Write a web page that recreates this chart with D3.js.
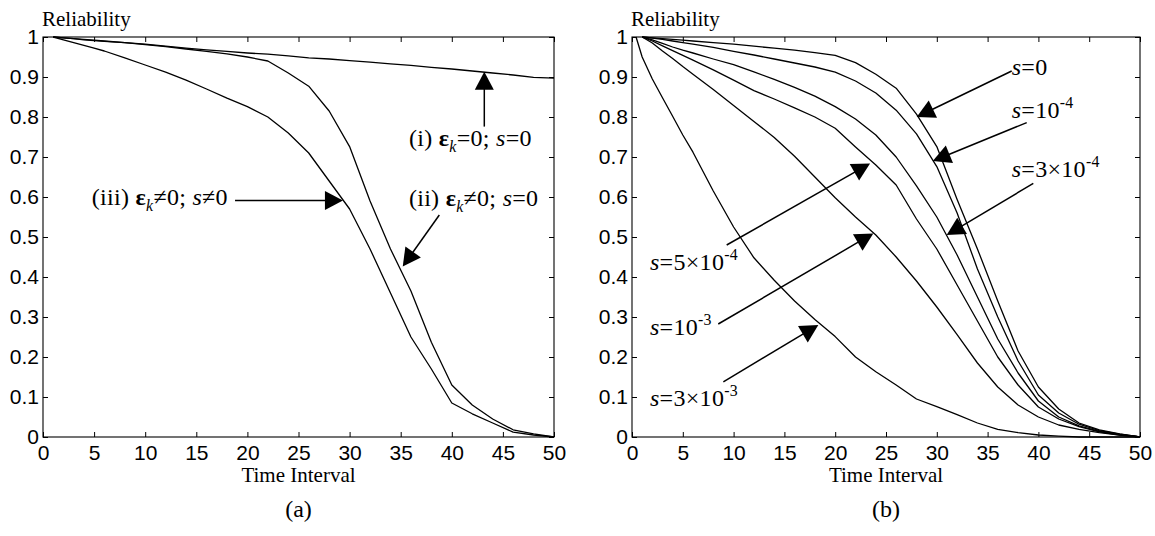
<!DOCTYPE html>
<html><head><meta charset="utf-8">
<script src="https://cdn.jsdelivr.net/npm/d3@7"></script>
<style>body{margin:0;background:#fff} text{white-space:pre}</style>
</head><body><svg id="c" width="1155" height="536"></svg>
<script>
// ---------- data ----------
const xTicks = [0,5,10,15,20,25,30,35,40,45,50];
const xTickLabels = ["0","5","10","15","20","25","30","35","40","45","50"];
const yTicks = [0,0.1,0.2,0.3,0.4,0.5,0.6,0.7,0.8,0.9,1];
const yTickLabels = ["0","0.1","0.2","0.3","0.4","0.5","0.6","0.7","0.8","0.9","1"];

const timeX = [1,2,3,4,5,6,8,10,12,14,16,18,20,22,24,26,28,30,32,34,36,38,40,42,44,46,48,50];

// panel (a)
const a_i   = [1.0,0.998,0.996,0.993,0.991,0.989,0.986,0.982,0.977,0.972,0.968,0.964,0.96,0.957,0.953,0.948,0.945,0.941,0.937,0.933,0.929,0.924,0.92,0.915,0.91,0.905,0.899,0.897];
const a_ii  = [1.0,0.998,0.996,0.994,0.992,0.99,0.986,0.981,0.976,0.97,0.964,0.958,0.95,0.94,0.91,0.877,0.815,0.726,0.59,0.47,0.365,0.237,0.13,0.08,0.045,0.018,0.008,0.0];
const a_iii = [1.0,0.993,0.986,0.979,0.972,0.965,0.948,0.93,0.912,0.892,0.87,0.847,0.826,0.8,0.76,0.71,0.64,0.57,0.47,0.36,0.25,0.17,0.085,0.058,0.035,0.012,0.005,0.0];

// panel (b)
const b_s0   = [1.0,0.998,0.996,0.994,0.992,0.99,0.986,0.982,0.977,0.972,0.967,0.961,0.954,0.936,0.907,0.872,0.807,0.726,0.594,0.47,0.34,0.215,0.125,0.07,0.035,0.018,0.008,0.0];
const b_s1e4 = [1.0,0.997,0.994,0.99,0.986,0.982,0.974,0.964,0.955,0.945,0.935,0.925,0.912,0.89,0.86,0.817,0.758,0.676,0.56,0.42,0.3,0.19,0.105,0.06,0.032,0.016,0.007,0.0];
const b_s3e4 = [1.0,0.993,0.984,0.975,0.967,0.96,0.945,0.931,0.913,0.894,0.874,0.852,0.826,0.795,0.755,0.7,0.628,0.55,0.455,0.35,0.245,0.16,0.09,0.05,0.028,0.014,0.006,0.0];
const b_s5e4 = [1.0,0.99,0.978,0.966,0.954,0.942,0.918,0.892,0.866,0.845,0.823,0.8,0.772,0.725,0.68,0.63,0.545,0.47,0.38,0.29,0.2,0.13,0.075,0.045,0.026,0.013,0.005,0.0];
const b_s1e3 = [1.0,0.985,0.965,0.946,0.926,0.907,0.869,0.829,0.789,0.749,0.702,0.65,0.598,0.55,0.505,0.45,0.39,0.325,0.256,0.185,0.125,0.08,0.05,0.03,0.019,0.011,0.005,0.0];
const s3e3X  = [0.4,1,2,3,4,5,6,8,10,12,14,16,18,20,22,24,26,28,30,32,34,36,38,40,42,44,46,48,50];
const b_s3e3 = [1.0,0.95,0.895,0.848,0.802,0.755,0.712,0.615,0.525,0.448,0.392,0.34,0.294,0.251,0.2,0.163,0.13,0.095,0.076,0.056,0.035,0.019,0.011,0.005,0.002,0.0,0.0,0.0,0.0];

// annotation texts
const labelsA = [
  [{t:"(i) "},{t:"ε",b:1},{t:"k",i:1,sub:1},{t:"=0; "},{t:"s",i:1},{t:"=0"}],
  [{t:"(ii) "},{t:"ε",b:1},{t:"k",i:1,sub:1},{t:"≠0; "},{t:"s",i:1},{t:"=0"}],
  [{t:"(iii) "},{t:"ε",b:1},{t:"k",i:1,sub:1},{t:"≠0; "},{t:"s",i:1},{t:"≠0"}]
];
const labelsB = [
  [{t:"s",i:1},{t:"=0"}],
  [{t:"s",i:1},{t:"=10"},{t:"-4",sup:1}],
  [{t:"s",i:1},{t:"=3×10"},{t:"-4",sup:1}],
  [{t:"s",i:1},{t:"=5×10"},{t:"-4",sup:1}],
  [{t:"s",i:1},{t:"=10"},{t:"-3",sup:1}],
  [{t:"s",i:1},{t:"=3×10"},{t:"-3",sup:1}]
];

// ---------- drawing ----------
const SERIF = "'Liberation Serif','Times New Roman',Times,serif";
const SANS = "'Liberation Sans',Arial,Helvetica,sans-serif";
const svg = d3.select('#c');
svg.append('rect').attr('width',1155).attr('height',536).attr('fill','#fff');

function richText(g, x, y, parts, size) {
  const t = g.append('text').attr('x',x).attr('y',y)
    .attr('font-family',SERIF).attr('font-size',size).attr('fill','#000')
    .attr('letter-spacing',0.3);
  let cur = 0;
  parts.forEach(p => {
    const shift = p.sub ? size*0.25 : p.sup ? -size*0.42 : 0;
    const s = t.append('tspan').text(p.t).attr('dy', shift - cur);
    cur = shift;
    if (p.i) s.attr('font-style','italic');
    if (p.b) s.attr('font-weight','bold');
    if (p.sub || p.sup) s.attr('font-size', size*0.66);
  });
}

function arrow(g, x1, y1, x2, y2) {
  const dx = x2-x1, dy = y2-y1, L = Math.hypot(dx,dy), ux = dx/L, uy = dy/L;
  const hl = 18, hw = 9.5;
  const bx = x2-ux*hl, by = y2-uy*hl;
  g.append('line').attr('x1',x1).attr('y1',y1).attr('x2',bx+ux*2).attr('y2',by+uy*2)
    .attr('stroke','#000').attr('stroke-width',1.5);
  g.append('path').attr('d',`M${x2},${y2}L${bx-uy*hw},${by+ux*hw}L${bx+uy*hw},${by-ux*hw}Z`).attr('fill','#000');
}

function panel(cfg) {
  const x = d3.scaleLinear().domain([0,50]).range([cfg.left, cfg.right]);
  const y = d3.scaleLinear().domain([0,1]).range([cfg.bottom, cfg.top]);
  const g = svg.append('g');

  const styleAxis = (sel) => {
    sel.select('.domain').remove();
    sel.selectAll('.tick line').attr('stroke','#000').attr('stroke-width',1);
    sel.selectAll('.tick text').attr('font-family',SANS).attr('font-size',21).attr('fill','#000');
  };
  g.append('g').attr('transform',`translate(0,${cfg.bottom})`)
    .call(d3.axisBottom(x).tickValues(xTicks).tickFormat((d,i)=>xTickLabels[i]).tickSize(-5).tickSizeOuter(0).tickPadding(8))
    .call(styleAxis);
  g.append('g').attr('transform',`translate(0,${cfg.top})`)
    .call(d3.axisTop(x).tickValues(xTicks).tickFormat('').tickSize(-5).tickSizeOuter(0))
    .call(styleAxis);
  g.append('g').attr('transform',`translate(${cfg.left},0)`)
    .call(d3.axisLeft(y).tickValues(yTicks).tickFormat((d,i)=>yTickLabels[i]).tickSize(-5).tickSizeOuter(0).tickPadding(4))
    .call(styleAxis);
  g.append('g').attr('transform',`translate(${cfg.right},0)`)
    .call(d3.axisRight(y).tickValues(yTicks).tickFormat('').tickSize(-5).tickSizeOuter(0))
    .call(styleAxis);

  g.append('rect').attr('x',cfg.left).attr('y',cfg.top)
    .attr('width',cfg.right-cfg.left).attr('height',cfg.bottom-cfg.top)
    .attr('fill','none').attr('stroke','#000').attr('stroke-width',1.1);

  const line = d3.line().x(d=>x(d[0])).y(d=>y(d[1]));
  cfg.series.forEach(s => {
    g.append('path').datum(s.xs.map((v,i)=>[v, s.ys[i]]))
      .attr('d', line).attr('fill','none').attr('stroke','#000').attr('stroke-width',1.3)
      .attr('stroke-linejoin','round');
  });

  g.append('text').attr('x',cfg.left-1).attr('y',cfg.top-11).text('Reliability')
    .attr('font-family',SERIF).attr('font-size',21).attr('fill','#000');
  g.append('text').attr('x',(cfg.left+cfg.right)/2).attr('y',482).attr('text-anchor','middle')
    .text('Time Interval').attr('font-family',SERIF).attr('font-size',21).attr('fill','#000');
  g.append('text').attr('x',(cfg.left+cfg.right)/2).attr('y',517).attr('text-anchor','middle')
    .text(cfg.tag).attr('font-family',SERIF).attr('font-size',24).attr('fill','#000');

  cfg.notes.forEach(n => {
    richText(g, x(n.tx), y(n.ty), n.parts, 24);
    arrow(g, x(n.ax[0]), y(n.ax[1]), x(n.ax[2]), y(n.ax[3]));
  });
}

panel({
  left:43, right:554, top:37, bottom:437, tag:'(a)',
  series:[{xs:timeX, ys:a_i},{xs:timeX, ys:a_ii},{xs:timeX, ys:a_iii}],
  notes:[
    {parts:labelsA[0], tx:35.8, ty:0.7275, ax:[43.18,0.776,43.18,0.913]},
    {parts:labelsA[1], tx:35.8, ty:0.5775, ax:[38.78,0.555,35.2,0.426]},
    {parts:labelsA[2], tx:4.77, ty:0.581, ax:[18.79,0.591,29.35,0.591]}
  ]
});

panel({
  left:632, right:1140, top:37, bottom:437, tag:'(b)',
  series:[{xs:timeX, ys:b_s0},{xs:timeX, ys:b_s1e4},{xs:timeX, ys:b_s3e4},
          {xs:timeX, ys:b_s5e4},{xs:timeX, ys:b_s1e3},{xs:s3e3X, ys:b_s3e3}],
  notes:[
    {parts:labelsB[0], tx:37.37, ty:0.905, ax:[37.37,0.915,28.02,0.80]},
    {parts:labelsB[1], tx:37.37, ty:0.797, ax:[38.85,0.786,29.6,0.69]},
    {parts:labelsB[2], tx:37.37, ty:0.651, ax:[39.5,0.634,30.97,0.505]},
    {parts:labelsB[3], tx:1.77, ty:0.4175, ax:[9.32,0.48,23.43,0.684]},
    {parts:labelsB[4], tx:1.77, ty:0.255, ax:[8.49,0.2825,23.75,0.509]},
    {parts:labelsB[5], tx:1.77, ty:0.0775, ax:[8.99,0.138,18.34,0.28]}
  ]
});
</script></body></html>
